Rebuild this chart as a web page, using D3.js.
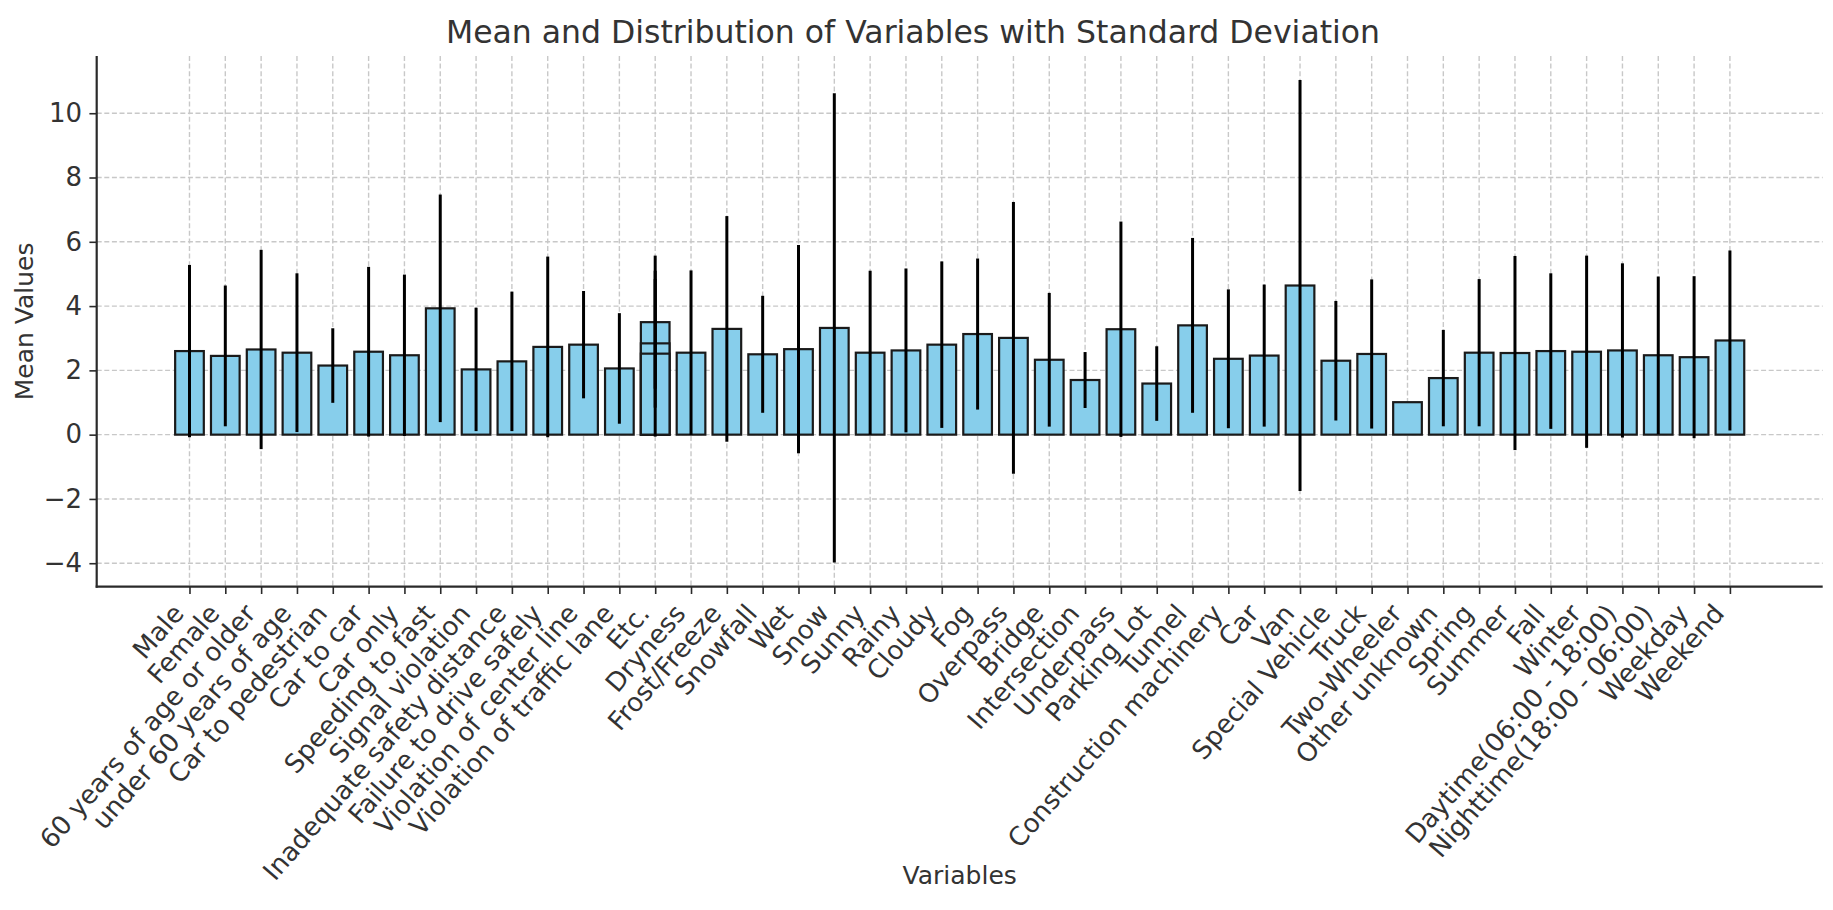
<!DOCTYPE html>
<html>
<head>
<meta charset="utf-8">
<script src="https://cdn.jsdelivr.net/npm/d3@7"></script>
<style>
  html, body { margin: 0; padding: 0; background: #fff; }
  svg { display: block; font-family: "DejaVu Sans", sans-serif; }
</style>
</head>
<body>
<svg id="chart" width="1833" height="910"></svg>
<script>
// ---- Data ----
const categories = [
  "Male", "Female", "60 years of age or older", "under 60 years of age",
  "Car to pedestrian", "Car to car", "Car only", "Speeding to fast",
  "Signal violation", "Inadequate safety distance", "Failure to drive safely",
  "Violation of center line", "Violation of traffic lane", "Etc.",
  "Dryness", "Frost/Freeze", "Snowfall", "Wet", "Snow", "Sunny", "Rainy",
  "Cloudy", "Fog", "Overpass", "Bridge", "Intersection", "Underpass",
  "Parking Lot", "Tunnel", "Construction machinery", "Car", "Van",
  "Special Vehicle", "Truck", "Two-Wheeler", "Other unknown", "Spring",
  "Summer", "Fall", "Winter", "Daytime(06:00 - 18:00)",
  "Nighttime(18:00 - 06:00)", "Weekday", "Weekend"
];

// bars in drawing order (duplicate labels share one tick position)
const barLabels = [
  "Male", "Female", "60 years of age or older", "under 60 years of age",
  "Car to pedestrian", "Car to car", "Car only", "Speeding to fast",
  "Signal violation", "Inadequate safety distance", "Failure to drive safely",
  "Violation of center line", "Violation of traffic lane", "Etc.",
  "Dryness", "Frost/Freeze", "Snowfall", "Wet", "Etc.", "Snow", "Sunny", "Rainy",
  "Cloudy", "Fog", "Etc.", "Overpass", "Bridge", "Intersection", "Underpass",
  "Parking Lot", "Tunnel", "Construction machinery", "Car", "Van",
  "Special Vehicle", "Truck", "Two-Wheeler", "Other unknown", "Spring",
  "Summer", "Fall", "Winter", "Daytime(06:00 - 18:00)",
  "Nighttime(18:00 - 06:00)", "Weekday", "Weekend"
];
const means = [
  2.60, 2.45, 2.65, 2.55,
  2.15, 2.58, 2.47, 3.93,
  2.03, 2.28, 2.73,
  2.80, 2.06, 3.50,
  2.55, 3.29, 2.50, 2.66, 2.84, 3.32, 2.55, 2.62,
  2.80, 3.13, 2.52, 3.01, 2.33, 1.70, 3.28,
  1.59, 3.40, 2.36, 2.46, 4.64,
  2.30, 2.51, 1.01, 1.76, 2.55,
  2.54, 2.60, 2.58, 2.62,
  2.47, 2.41, 2.93
];
const stds = [
  2.68, 2.19, 3.10, 2.47,
  1.16, 2.64, 2.51, 3.54,
  1.92, 2.17, 2.81,
  1.67, 1.72, 2.07,
  2.56, 3.51, 1.82, 3.24, 2.00, 7.30, 2.55, 2.55,
  2.59, 2.35, 2.58, 4.23, 2.08, 0.87, 3.35,
  1.16, 2.72, 2.16, 2.21, 6.39,
  1.86, 2.32, 0.00, 1.50, 2.29,
  3.02, 2.42, 2.99, 2.71,
  2.45, 2.52, 2.80
];
const yTicks = [-4, -2, 0, 2, 4, 6, 8, 10];

const titleText = "Mean and Distribution of Variables with Standard Deviation";
const xLabelText = "Variables";
const yLabelText = "Mean Values";

// ---- Layout ----
const W = 1833, H = 910;
const plot = { left: 96.7, right: 1822.7, top: 56, bottom: 586.7 };
const tickLen = 7.3, tickPad = 7.3;
const tickFont = 26, labelFont = 25, titleFont = 31.5;
const barFrac = 0.8;
const labelAngle = 49; // degrees

const svg = d3.select("#chart");

const bars = barLabels.map((lab, i) => ({
  label: lab, idx: categories.indexOf(lab), mean: means[i], std: stds[i]
}));

// x: linear over category index with matplotlib-style 5% margins
const xlo = -barFrac / 2, xhi = categories.length - 1 + barFrac / 2;
const xm = 0.05 * (xhi - xlo);
const x = d3.scaleLinear().domain([xlo - xm, xhi + xm]).range([plot.left, plot.right]);

// y: data extent incl. error bars and 0, with 5% margins
const ylo = Math.min(0, d3.min(bars, d => d.mean - d.std));
const yhi = d3.max(bars, d => d.mean + d.std);
const ym = 0.05 * (yhi - ylo);
const y = d3.scaleLinear().domain([ylo - ym, yhi + ym]).range([plot.bottom, plot.top]);

const bw = x(barFrac) - x(0);

// ---- Grid ----
const grid = svg.append("g").attr("class", "grid");
grid.selectAll("line.gx").data(categories).join("line")
  .attr("class", "gx")
  .attr("x1", (d, i) => x(i)).attr("x2", (d, i) => x(i))
  .attr("y1", plot.top).attr("y2", plot.bottom)
  .attr("stroke", "#c8c8c8").attr("stroke-width", 1.4)
  .attr("stroke-dasharray", "5,2.6");
grid.selectAll("line.gy").data(yTicks).join("line")
  .attr("class", "gy")
  .attr("x1", plot.left).attr("x2", plot.right)
  .attr("y1", d => y(d)).attr("y2", d => y(d))
  .attr("stroke", "#c8c8c8").attr("stroke-width", 1.4)
  .attr("stroke-dasharray", "5,2.6");

// ---- Bars ----
svg.append("g").selectAll("rect").data(bars).join("rect")
  .attr("x", d => x(d.idx) - bw / 2)
  .attr("width", bw)
  .attr("y", d => Math.min(y(d.mean), y(0)))
  .attr("height", d => Math.abs(y(0) - y(d.mean)))
  .attr("fill", "#87CEEB")
  .attr("stroke", "#1a1a1a")
  .attr("stroke-width", 2.2);

// ---- Error bars ----
svg.append("g").selectAll("line").data(bars.filter(d => d.std > 0)).join("line")
  .attr("x1", d => x(d.idx)).attr("x2", d => x(d.idx))
  .attr("y1", d => y(d.mean - d.std)).attr("y2", d => y(d.mean + d.std))
  .attr("stroke", "#000").attr("stroke-width", 3);

// ---- Axes ----
const axisColor = "#2a2a2a", textColor = "#333";

// left axis
const yAxis = d3.axisLeft(y).tickValues(yTicks).tickSize(tickLen).tickPadding(tickPad)
  .tickFormat(d => d < 0 ? "\u2212" + Math.abs(d) : String(d));
const gy = svg.append("g").attr("transform", `translate(${plot.left},0)`).call(yAxis);
gy.select(".domain").remove();
gy.selectAll(".tick line").attr("stroke", axisColor).attr("stroke-width", 1.6);
gy.selectAll(".tick text").attr("font-size", tickFont).attr("fill", textColor)
  .attr("font-family", "DejaVu Sans");

// bottom axis
const xAxis = d3.axisBottom(x).tickValues(d3.range(categories.length))
  .tickSize(tickLen).tickFormat(i => categories[i]);
const gx = svg.append("g").attr("transform", `translate(0,${plot.bottom})`).call(xAxis);
gx.select(".domain").remove();
gx.selectAll(".tick line").attr("stroke", axisColor).attr("stroke-width", 1.6);
const asc = 0.76 * tickFont, desc = 0.24 * tickFont;
const th = labelAngle * Math.PI / 180;
gx.selectAll(".tick text")
  .attr("font-size", tickFont).attr("fill", textColor)
  .attr("font-family", "DejaVu Sans")
  .attr("text-anchor", "end")
  .attr("x", 0).attr("y", 0).attr("dy", null)
  .attr("transform",
    `translate(${-desc * Math.sin(th)},${tickLen + tickPad + asc * Math.cos(th)}) rotate(${-labelAngle})`);

// spines (left and bottom only)
svg.append("line").attr("x1", plot.left).attr("x2", plot.left)
  .attr("y1", plot.top).attr("y2", plot.bottom + 1)
  .attr("stroke", axisColor).attr("stroke-width", 2.2);
svg.append("line").attr("x1", plot.left - 1).attr("x2", plot.right)
  .attr("y1", plot.bottom).attr("y2", plot.bottom)
  .attr("stroke", axisColor).attr("stroke-width", 2.2);

// ---- Titles ----
svg.append("text").text(titleText)
  .attr("x", 913).attr("y", plot.top - 13)
  .attr("text-anchor", "middle").attr("font-size", titleFont).attr("fill", textColor);
svg.append("text").text(xLabelText)
  .attr("x", (plot.left + plot.right) / 2).attr("y", 884)
  .attr("text-anchor", "middle").attr("font-size", labelFont).attr("fill", textColor);
svg.append("text").text(yLabelText)
  .attr("transform", `translate(33,${(plot.top + plot.bottom) / 2}) rotate(-90)`)
  .attr("text-anchor", "middle").attr("font-size", labelFont).attr("fill", textColor);
</script>
</body>
</html>
